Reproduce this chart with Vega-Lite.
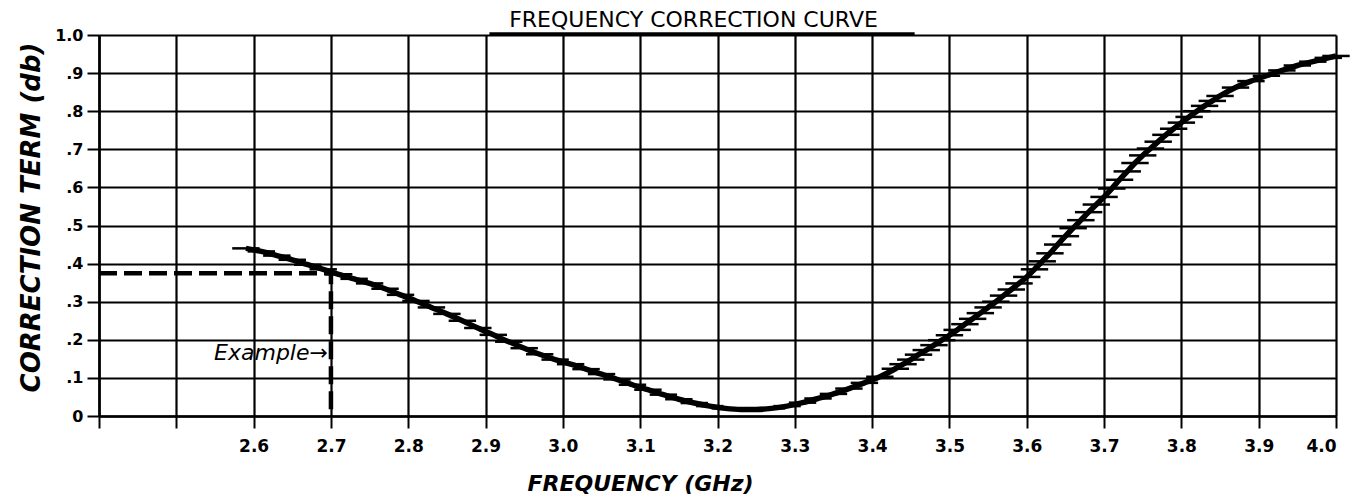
{
  "$schema": "https://vega.github.io/schema/vega-lite/v6.json",
  "width": 1237,
  "height": 381,
  "autosize": "none",
  "padding": {"left": 99, "top": 35, "right": 33, "bottom": 84},
  "background": "white",
  "config": {
    "view": {"stroke": null},
    "font": "DejaVu Sans",
    "title": {"fontSize": 22, "fontWeight": "normal", "font": "DejaVu Sans", "color": "black", "anchor": "middle", "baseline": "bottom", "offset": 6, "frame": "group"}
  },
  "title": {"text": "FREQUENCY CORRECTION CURVE", "fontSize": 22, "dx": -24, "dy": 11},
  "datasets": {
    "curve": [
      {"f": 2.59, "v": 0.44}, {"f": 2.61, "v": 0.432}, {"f": 2.63, "v": 0.421}, {"f": 2.65, "v": 0.41},
      {"f": 2.67, "v": 0.397}, {"f": 2.69, "v": 0.385}, {"f": 2.71, "v": 0.372}, {"f": 2.73, "v": 0.36},
      {"f": 2.75, "v": 0.348}, {"f": 2.77, "v": 0.334}, {"f": 2.79, "v": 0.318}, {"f": 2.81, "v": 0.302},
      {"f": 2.83, "v": 0.285}, {"f": 2.85, "v": 0.268}, {"f": 2.87, "v": 0.25}, {"f": 2.89, "v": 0.231},
      {"f": 2.91, "v": 0.213}, {"f": 2.93, "v": 0.195}, {"f": 2.95, "v": 0.178}, {"f": 2.97, "v": 0.162},
      {"f": 2.99, "v": 0.148}, {"f": 3.01, "v": 0.136}, {"f": 3.03, "v": 0.123}, {"f": 3.05, "v": 0.11},
      {"f": 3.07, "v": 0.096}, {"f": 3.09, "v": 0.082}, {"f": 3.11, "v": 0.069}, {"f": 3.13, "v": 0.056},
      {"f": 3.15, "v": 0.044}, {"f": 3.17, "v": 0.034}, {"f": 3.19, "v": 0.026}, {"f": 3.21, "v": 0.02},
      {"f": 3.23, "v": 0.017}, {"f": 3.25, "v": 0.017}, {"f": 3.27, "v": 0.02}, {"f": 3.29, "v": 0.026},
      {"f": 3.31, "v": 0.035}, {"f": 3.33, "v": 0.046}, {"f": 3.35, "v": 0.058}, {"f": 3.37, "v": 0.072},
      {"f": 3.39, "v": 0.087}, {"f": 3.41, "v": 0.103}, {"f": 3.43, "v": 0.124}, {"f": 3.44, "v": 0.136},
      {"f": 3.45, "v": 0.148}, {"f": 3.46, "v": 0.161}, {"f": 3.47, "v": 0.173}, {"f": 3.48, "v": 0.186},
      {"f": 3.49, "v": 0.199}, {"f": 3.5, "v": 0.212}, {"f": 3.51, "v": 0.226}, {"f": 3.52, "v": 0.241},
      {"f": 3.53, "v": 0.255}, {"f": 3.54, "v": 0.27}, {"f": 3.55, "v": 0.285}, {"f": 3.56, "v": 0.3},
      {"f": 3.57, "v": 0.316}, {"f": 3.58, "v": 0.332}, {"f": 3.59, "v": 0.348}, {"f": 3.6, "v": 0.365},
      {"f": 3.61, "v": 0.385}, {"f": 3.62, "v": 0.406}, {"f": 3.63, "v": 0.427}, {"f": 3.64, "v": 0.45},
      {"f": 3.65, "v": 0.472}, {"f": 3.66, "v": 0.493}, {"f": 3.67, "v": 0.514}, {"f": 3.68, "v": 0.535},
      {"f": 3.69, "v": 0.555}, {"f": 3.7, "v": 0.575}, {"f": 3.71, "v": 0.597}, {"f": 3.72, "v": 0.62},
      {"f": 3.73, "v": 0.642}, {"f": 3.74, "v": 0.664}, {"f": 3.75, "v": 0.684}, {"f": 3.76, "v": 0.702},
      {"f": 3.77, "v": 0.72}, {"f": 3.78, "v": 0.738}, {"f": 3.79, "v": 0.754}, {"f": 3.8, "v": 0.77},
      {"f": 3.81, "v": 0.785}, {"f": 3.82, "v": 0.8}, {"f": 3.83, "v": 0.814}, {"f": 3.84, "v": 0.827},
      {"f": 3.85, "v": 0.84}, {"f": 3.87, "v": 0.862}, {"f": 3.89, "v": 0.879}, {"f": 3.91, "v": 0.893},
      {"f": 3.93, "v": 0.907}, {"f": 3.95, "v": 0.92}, {"f": 3.97, "v": 0.93}, {"f": 3.99, "v": 0.94},
      {"f": 4.0, "v": 0.945}
    ],
    "minor": [
      {"f": 2.62}, {"f": 2.64}, {"f": 2.66}, {"f": 2.68},
      {"f": 2.72}, {"f": 2.74}, {"f": 2.76}, {"f": 2.78},
      {"f": 2.82}, {"f": 2.84}, {"f": 2.86}, {"f": 2.88},
      {"f": 2.92}, {"f": 2.94}, {"f": 2.96}, {"f": 2.98},
      {"f": 3.02}, {"f": 3.04}, {"f": 3.06}, {"f": 3.08},
      {"f": 3.12}, {"f": 3.14}, {"f": 3.16}, {"f": 3.18},
      {"f": 3.22}, {"f": 3.24}, {"f": 3.26}, {"f": 3.28},
      {"f": 3.32}, {"f": 3.34}, {"f": 3.36}, {"f": 3.38},
      {"f": 3.42}, {"f": 3.44}, {"f": 3.46}, {"f": 3.48},
      {"f": 3.52}, {"f": 3.54}, {"f": 3.56}, {"f": 3.58},
      {"f": 3.62}, {"f": 3.64}, {"f": 3.66}, {"f": 3.68},
      {"f": 3.72}, {"f": 3.74}, {"f": 3.76}, {"f": 3.78},
      {"f": 3.82}, {"f": 3.84}, {"f": 3.86}, {"f": 3.88},
      {"f": 3.92}, {"f": 3.94}, {"f": 3.96}, {"f": 3.98}
    ],
    "example": [
      {"f": 2.4, "v": 0.375, "o": 1},
      {"f": 2.7, "v": 0.375, "o": 2},
      {"f": 2.7, "v": 0.0, "o": 3}
    ],
    "note": [
      {"f": 2.7, "v": 0.165, "label": "Example\u2192"}
    ],
    "underline": [
      {"f": 2.905, "f2": 3.455, "v": 1.0}
    ]
  },
  "encoding": {
    "x": {
      "field": "f", "type": "quantitative",
      "scale": {"domain": [2.4, 4.0], "nice": false, "zero": false},
      "axis": {
        "values": [2.4, 2.5, 2.6, 2.7, 2.8, 2.9, 3.0, 3.1, 3.2, 3.3, 3.4, 3.5, 3.6, 3.7, 3.8, 3.9, 4.0],
        "labelExpr": "datum.value < 2.55 ? '' : format(datum.value, '.1f')",
        "grid": true, "gridColor": "black", "gridWidth": 2.2, "gridOpacity": 1,
        "domainColor": "black", "domainWidth": 2.5,
        "tickColor": "black", "tickWidth": 2, "tickSize": 12,
        "labelFont": "DejaVu Sans", "labelFontWeight": "bold", "labelFontSize": 17, "labelColor": "black", "labelPadding": 10,
        "title": "FREQUENCY (GHz)", "titleFont": "DejaVu Sans", "titleFontSize": 22, "titleFontStyle": "italic", "titleFontWeight": "bold", "titleColor": "black",
        "titlePadding": 19, "titleX": 541
      }
    },
    "y": {
      "field": "v", "type": "quantitative",
      "scale": {"domain": [0, 1], "nice": false},
      "axis": {
        "values": [0, 0.1, 0.2, 0.3, 0.4, 0.5, 0.6, 0.7, 0.8, 0.9, 1.0],
        "labelExpr": "datum.value == 0 ? '0' : datum.value >= 1 ? '1.0' : replace(format(datum.value, '.1f'), '0.', '.')",
        "grid": true, "gridColor": "black", "gridWidth": 2.2, "gridOpacity": 1,
        "domainColor": "black", "domainWidth": 2.5,
        "tickColor": "black", "tickWidth": 2, "tickSize": 12,
        "labelFont": "DejaVu Sans", "labelFontWeight": "bold", "labelFontSize": 16, "labelColor": "black", "labelPadding": 4,
        "title": "CORRECTION TERM (db)", "titleFont": "DejaVu Sans", "titleFontSize": 26, "titleFontStyle": "italic", "titleFontWeight": "bold", "titleColor": "black",
        "titlePadding": 10, "titleY": 182
      }
    }
  },
  "layer": [
    {
      "data": {"name": "minor"},
      "mark": {"type": "rule", "color": "black", "strokeWidth": 2},
      "encoding": {"y": {"datum": 0}, "y2": {"datum": 0.016}}
    },
    {
      "data": {"name": "underline"},
      "mark": {"type": "rule", "color": "black", "strokeWidth": 3.5, "yOffset": -1},
      "encoding": {"x2": {"field": "f2"}}
    },
    {
      "data": {"name": "example"},
      "mark": {"type": "line", "color": "black", "strokeWidth": 4.5, "strokeDash": [18, 7]},
      "encoding": {"order": {"field": "o", "type": "quantitative"}}
    },
    {
      "data": {"name": "curve"},
      "mark": {"type": "line", "color": "black", "strokeWidth": 5.5, "interpolate": "monotone"},
      "encoding": {}
    },
    {
      "data": {"name": "curve"},
      "mark": {"type": "point", "shape": "stroke", "filled": false, "size": 750, "strokeWidth": 2.5, "color": "black", "opacity": 1},
      "encoding": {}
    },
    {
      "data": {"name": "note"},
      "mark": {"type": "text", "align": "right", "baseline": "middle", "dx": -3, "font": "DejaVu Sans", "fontStyle": "italic", "fontSize": 22, "color": "black"},
      "encoding": {"text": {"field": "label"}}
    }
  ]
}
